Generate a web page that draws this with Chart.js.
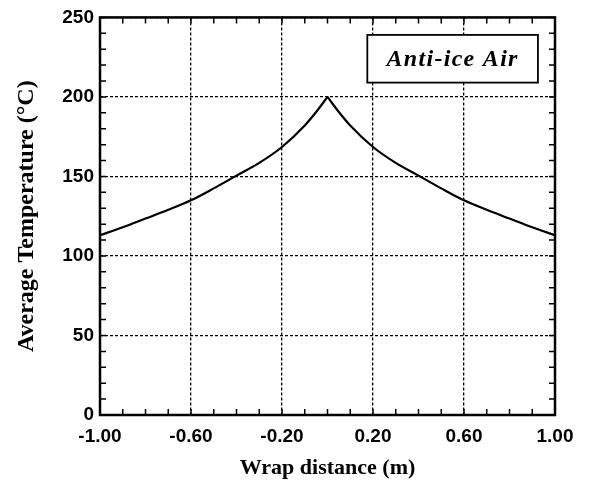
<!DOCTYPE html>
<html>
<head>
<meta charset="utf-8">
<script src="https://cdn.jsdelivr.net/npm/chart.js@4.4.1/dist/chart.umd.min.js"></script>
<style>
  html, body { margin: 0; padding: 0; background: #fff; }
  #wrap { width: 613px; height: 486px; }
</style>
</head>
<body>
<div id="wrap"><canvas id="myChart"></canvas></div>
<script>
// wrap distance (m) and average temperature (°C)
const leftX = [-1.0, -0.9, -0.8, -0.7, -0.6, -0.5, -0.4, -0.3, -0.2, -0.1, -0.05, 0];
const leftT = [113, 118, 123.5, 129, 135, 142.5, 150.5, 158.5, 168.5, 182, 190.5, 200];
const rightX = [0, 0.05, 0.1, 0.2, 0.3, 0.4, 0.5, 0.6, 0.7, 0.8, 0.9, 1.0];
const rightT = [200, 190.5, 182, 168.5, 158.5, 150.5, 142.5, 135, 129, 123.5, 118, 113];
const xTicks = [-1.0, -0.6, -0.2, 0.2, 0.6, 1.0];
const yTicks = [0, 50, 100, 150, 200, 250];
const legendText = "Anti-ice Air";

const toPoints = (xs, ys) => xs.map((x, i) => ({ x: x, y: ys[i] }));

// frame, minor ticks and the label box
const framePlugin = {
  id: "frame",
  afterDraw(chart) {
    const c = chart.ctx;
    const a = chart.chartArea;
    const xs = chart.scales.x;
    const ys = chart.scales.y;
    c.save();
    c.strokeStyle = "#000";
    c.lineWidth = 1.5;
    // minor ticks along x every 0.1
    for (let i = -10; i <= 10; i++) {
      const px = xs.getPixelForValue(i / 10);
      c.beginPath();
      c.moveTo(px, a.bottom); c.lineTo(px, a.bottom - 6);
      c.moveTo(px, a.top); c.lineTo(px, a.top + 6);
      c.stroke();
    }
    // minor ticks along y every 10
    for (let v = 0; v <= 250; v += 10) {
      const py = ys.getPixelForValue(v);
      c.beginPath();
      c.moveTo(a.left, py); c.lineTo(a.left + 6, py);
      c.moveTo(a.right, py); c.lineTo(a.right - 6, py);
      c.stroke();
    }
    // frame
    c.lineWidth = 2.5;
    c.strokeRect(a.left, a.top, a.right - a.left, a.bottom - a.top);
    // label box
    const bx0 = xs.getPixelForValue(0.175), bx1 = xs.getPixelForValue(0.925);
    const by0 = ys.getPixelForValue(239), by1 = ys.getPixelForValue(209);
    c.fillStyle = "#fff";
    c.fillRect(bx0, by0, bx1 - bx0, by1 - by0);
    c.lineWidth = 1.8;
    c.strokeRect(bx0, by0, bx1 - bx0, by1 - by0);
    c.fillStyle = "#000";
    c.font = "italic bold 24px 'Liberation Serif'";
    c.letterSpacing = "1.3px";
    c.textAlign = "center";
    c.textBaseline = "middle";
    c.fillText(legendText, (bx0 + bx1) / 2, (by0 + by1) / 2 + 1);
    c.restore();
  },
};

const bgPlugin = {
  id: "bg",
  beforeDraw(chart) {
    const c = chart.ctx;
    c.save();
    c.fillStyle = "#fff";
    c.fillRect(0, 0, chart.width, chart.height);
    c.restore();
  },
};

const lineStyle = {
  borderColor: "#000",
  borderWidth: 2.2,
  pointRadius: 0,
  fill: false,
  cubicInterpolationMode: "monotone",
};

const ctx = document.getElementById("myChart").getContext("2d");
const myChart = new Chart(ctx, {
  type: "line",
  data: {
    datasets: [
      { label: legendText, data: toPoints(leftX, leftT), ...lineStyle },
      { label: legendText, data: toPoints(rightX, rightT), ...lineStyle },
    ],
  },
  options: {
    responsive: true,
    maintainAspectRatio: false,
    animation: false,
    layout: { padding: { top: 17, right: 58, left: 0, bottom: 0 } },
    plugins: {
      legend: { display: false },
      tooltip: { enabled: false },
    },
    scales: {
      x: {
        type: "linear",
        min: -1,
        max: 1,
        afterBuildTicks: (s) => { s.ticks = xTicks.map((v) => ({ value: v })); },
        afterFit: (s) => { s.height = 71; },
        ticks: {
          color: "#000",
          padding: 10,
          maxRotation: 0,
          font: { family: "'Liberation Sans'", weight: "bold", size: 19 },
          callback: (v) => Number(v).toFixed(2),
        },
        grid: {
          color: "#000",
          lineWidth: 1.3,
          drawTicks: false,
        },
        border: { display: false, dash: [3, 2] },
        title: {
          display: true,
          text: "Wrap distance (m)",
          color: "#000",
          font: { family: "'Liberation Serif'", weight: "bold", size: 22 },
          padding: { top: 4 },
        },
      },
      y: {
        min: 0,
        max: 250,
        afterBuildTicks: (s) => { s.ticks = yTicks.map((v) => ({ value: v })); },
        afterFit: (s) => { s.width = 100; },
        ticks: {
          color: "#000",
          padding: 6,
          font: { family: "'Liberation Sans'", weight: "bold", size: 19 },
        },
        grid: {
          color: "#000",
          lineWidth: 1.3,
          drawTicks: false,
        },
        border: { display: false, dash: [3, 2] },
        title: {
          display: true,
          text: "Average Temperature (°C)",
          color: "#000",
          font: { family: "'Liberation Serif'", weight: "bold", size: 24 },
          padding: { top: 12, bottom: 0 },
        },
      },
    },
  },
  plugins: [bgPlugin, framePlugin],
});
</script>
</body>
</html>
